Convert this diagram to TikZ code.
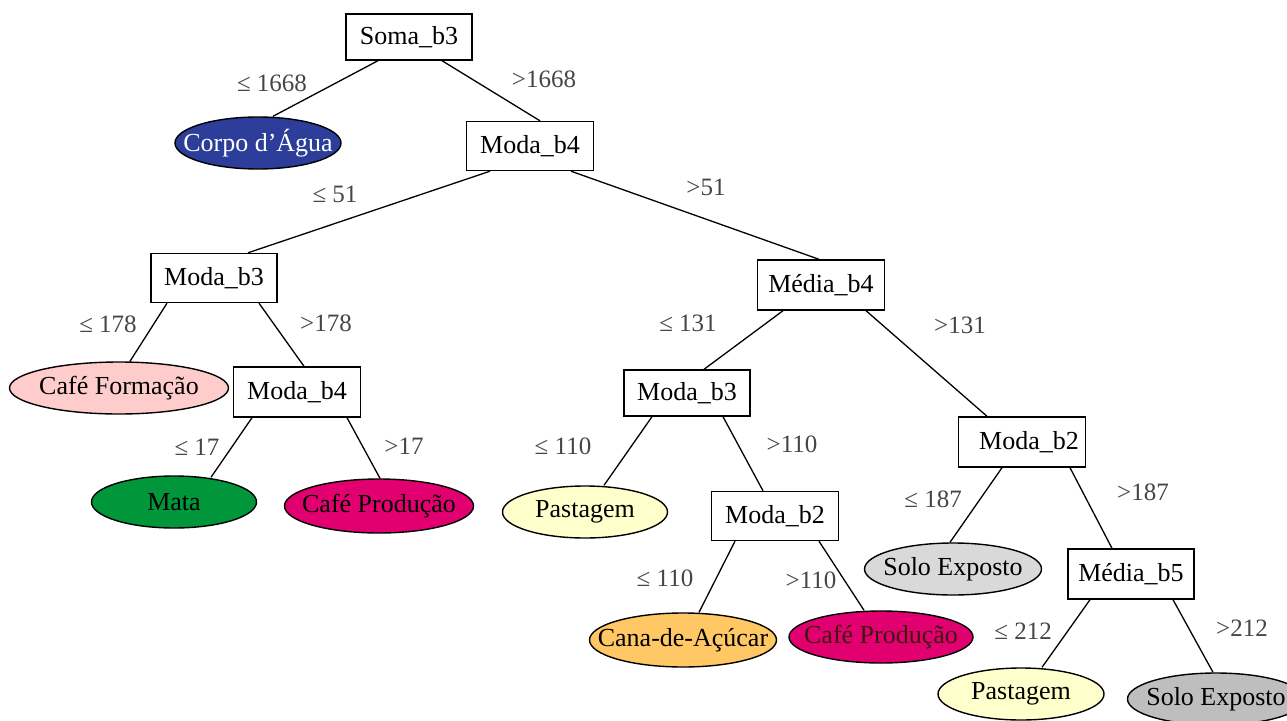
\documentclass[tikz,border=0pt]{standalone}
\usepackage{fontspec}
\setmainfont{Liberation Serif}
\usetikzlibrary{shapes.geometric,calc}
\definecolor{corpo}{RGB}{44,62,154}
\definecolor{cform}{RGB}{255,204,204}
\definecolor{mata}{RGB}{0,150,57}
\definecolor{cprod}{RGB}{226,0,112}
\definecolor{cana}{RGB}{255,200,100}
\definecolor{past}{RGB}{255,255,204}
\definecolor{solo}{RGB}{217,217,217}
\definecolor{solod}{RGB}{190,190,190}
\definecolor{labgray}{RGB}{70,70,70}
\definecolor{darktxt}{RGB}{60,25,10}
\begin{document}
\begin{tikzpicture}[x=1pt,y=-1pt,
  box/.style={draw, line width=1.4pt, rectangle, minimum width=127pt, minimum height=49pt, inner sep=0pt, font=\fontsize{26}{30}\selectfont},
  leaf/.style={draw, line width=1.4pt, ellipse, inner sep=0pt},
  lt/.style={font=\fontsize{26}{30}\selectfont, inner sep=0pt},
  lab/.style={text=labgray, font=\fontsize{25}{30}\selectfont, inner sep=0pt},
  edge/.style={line width=1.3pt}]
\clip (0,0) rectangle (1287,720);
% decision boxes
\node[box, minimum width=126pt, minimum height=46pt] (root) at (409,37) {Soma\_b3};
\node[box] (mb4) at (530,146) {Moda\_b4};
\node[box, minimum width=126pt] (mb3l) at (214,278) {Moda\_b3};
\node[box, minimum height=50pt] (mb4l) at (297,392) {Moda\_b4};
\node[box, minimum height=50pt] (med4) at (821,285) {Média\_b4};
\node[box, minimum width=126pt, minimum height=46pt] (mb3m) at (687,393) {Moda\_b3};
\node[box] (mb2m) at (775,516) {\raisebox{-4pt}{Moda\_b2}};
\node[box, minimum height=50pt] (mb2r) at (1022,442) {\hspace*{14pt}Moda\_b2};
\node[box, minimum width=126pt, minimum height=50pt] (med5) at (1131,574) {Média\_b5};
% leaves
\node[leaf, fill=corpo, minimum width=166pt, minimum height=52pt, label={[lt,text=white]center:Corpo d’Água}] (corpo) at (258,143) {};
\node[leaf, fill=cform, minimum width=219pt, minimum height=52pt, label={[lt]center:Café Formação}] (cformn) at (119,388) {};
\node[leaf, fill=mata, minimum width=165pt, minimum height=52pt, label={[lt]center:Mata}] (matan) at (174,502) {};
\node[leaf, fill=cprod, minimum width=189pt, minimum height=54pt, label={[lt]center:Café Produção}] (cprodl) at (379,506) {};
\node[leaf, fill=past, minimum width=165pt, minimum height=52pt, label={[lt]center:Pastagem}] (pastm) at (585,512) {};
\node[leaf, fill=cana, minimum width=187pt, minimum height=54pt, label={[lt]center:Cana-de-Açúcar}] (canan) at (683,640) {};
\node[leaf, fill=cprod, minimum width=184pt, minimum height=52pt, label={[lt,text=darktxt]center:Café Produção}] (cprodm) at (881,637) {};
\node[leaf, fill=solo, minimum width=177pt, minimum height=52pt, label={[lt]center:Solo Exposto}] (solom) at (953,569) {};
\node[leaf, fill=past, minimum width=166pt, minimum height=52pt, label={[lt]center:Pastagem}] (pastr) at (1021,694) {};
\node[leaf, fill=solod, minimum width=177pt, minimum height=52pt, label={[lt]center:Solo Exposto}] (solor) at (1216,699) {};
% edges
\draw[edge] ([xshift=-31pt]root.south) -- ([xshift=15pt]corpo.north);
\draw[edge] ([xshift=33pt]root.south) -- ([xshift=10pt]mb4.north);
\draw[edge] ([xshift=-40pt]mb4.south) -- ([xshift=34pt]mb3l.north);
\draw[edge] ([xshift=41pt]mb4.south) -- ([xshift=-2pt]med4.north);
\draw[edge] ([xshift=-47pt]mb3l.south) -- ([xshift=11pt]cformn.north);
\draw[edge] ([xshift=45pt]mb3l.south) -- ([xshift=7pt]mb4l.north);
\draw[edge] ([xshift=-45pt]mb4l.south) -- ([xshift=37pt,yshift=-2pt]matan.north);
\draw[edge] ([xshift=50pt]mb4l.south) -- ([xshift=1pt]cprodl.north);
\draw[edge] ([xshift=-38pt]med4.south) -- ([xshift=17pt]mb3m.north);
\draw[edge] ([xshift=45pt]med4.south) -- ([xshift=-35pt]mb2r.north);
\draw[edge] ([xshift=-35pt]mb3m.south) -- ([xshift=19pt]pastm.north);
\draw[edge] ([xshift=36pt]mb3m.south) -- ([xshift=-12pt]mb2m.north);
\draw[edge] ([xshift=-40pt]mb2m.south) -- ([xshift=16pt]canan.north);
\draw[edge] ([xshift=44pt]mb2m.south) -- ([xshift=-17pt]cprodm.north);
\draw[edge] ([xshift=-20pt]mb2r.south) -- ([xshift=-3pt]solom.north);
\draw[edge] ([xshift=48pt]mb2r.south) -- ([xshift=-19pt]med5.north);
\draw[edge] ([xshift=-41pt]med5.south) -- ([xshift=21pt]pastr.north);
\draw[edge] ([xshift=42pt]med5.south) -- ([xshift=-3pt]solor.north);
% labels
\node[lab] (l1) at (272,83) {≤ 1668};
\node[lab] (l2) at (544,79) {>1668};
\node[lab] (l3) at (335,194) {≤ 51};
\node[lab] (l4) at (706,187) {>51};
\node[lab] (l5) at (108,324) {≤ 178};
\node[lab] (l6) at (326,323) {>178};
\node[lab] (l7) at (197,447) {≤ 17};
\node[lab] (l8) at (404,446) {>17};
\node[lab] (l9) at (688,323) {≤ 131};
\node[lab] (l10) at (960,325) {>131};
\node[lab] (l11) at (563,446) {≤ 110};
\node[lab] (l12) at (792,444) {>110};
\node[lab] (l13) at (665,578) {≤ 110};
\node[lab] (l14) at (811,580) {>110};
\node[lab] (l15) at (933,499) {≤ 187};
\node[lab] (l16) at (1143,492) {>187};
\node[lab] (l17) at (1023,631) {≤ 212};
\node[lab] (l18) at (1242,628) {>212};
\end{tikzpicture}
\end{document}
